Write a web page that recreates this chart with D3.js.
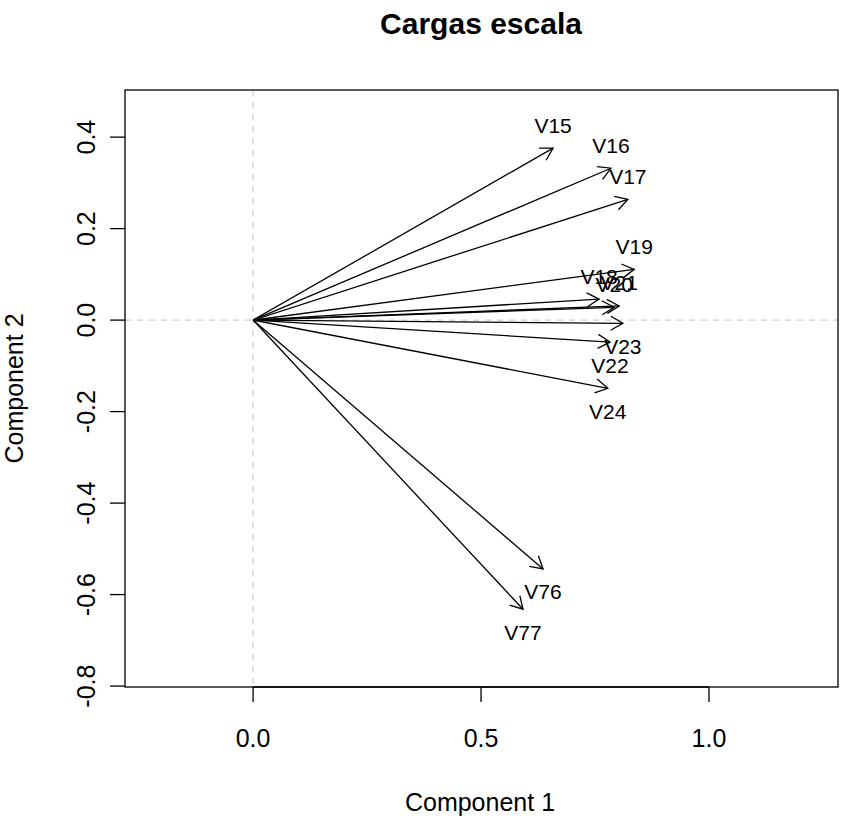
<!DOCTYPE html>
<html>
<head>
<meta charset="utf-8">
<script src="https://cdn.jsdelivr.net/npm/d3@7"></script>
<style>
  body { margin: 0; background: #fff; }
  text { font-family: "Liberation Sans", Arial, Helvetica, sans-serif; fill: #000; }
</style>
</head>
<body>
<svg id="chart" width="858" height="830"></svg>
<script>
// ---- data ----
const variables = ["V15","V16","V17","V18","V19","V20","V21","V22","V23","V24","V76","V77"];
const comp1 = [0.658, 0.785, 0.822, 0.759, 0.836, 0.792, 0.803, 0.783, 0.811, 0.778, 0.636, 0.592];
const comp2 = [0.376, 0.332, 0.264, 0.046, 0.111, 0.028, 0.031, -0.048, -0.007, -0.149, -0.544, -0.632];
const xTicks = [0.0, 0.5, 1.0];
const yTicks = [-0.8, -0.6, -0.4, -0.2, 0.0, 0.2, 0.4];
const xDomain = [-0.281, 1.283];
const yDomain = [-0.802, 0.503];
const title = "Cargas escala";
const xLabel = "Component 1";
const yLabel = "Component 2";

// ---- layout ----
const svg = d3.select("#chart");
const L = 125, R = 838, T = 90, B = 687;
const x = d3.scaleLinear().domain(xDomain).range([L, R]);
const y = d3.scaleLinear().domain(yDomain).range([B, T]);
const fmt = t => d3.format(".1f")(t).replace("\u2212", "-");

// reference lines
const refStyle = s => s.attr("stroke", "#cfcfcf").attr("stroke-width", 1.3).attr("stroke-dasharray", "6,6");
svg.append("line").attr("x1", x(0)).attr("x2", x(0)).attr("y1", T).attr("y2", B).call(refStyle);
svg.append("line").attr("x1", L).attr("x2", R).attr("y1", y(0)).attr("y2", y(0)).call(refStyle);

// arrows
const data = variables.map((v, i) => ({ name: v, c1: comp1[i], c2: comp2[i] }));
const g = svg.append("g").attr("stroke", "#000").attr("stroke-width", 1.3).attr("fill", "none");
const headLen = 14, headAng = Math.PI / 6;
data.forEach(d => {
  const x0 = x(0), y0 = y(0), x1 = x(d.c1), y1 = y(d.c2);
  g.append("line").attr("x1", x0).attr("y1", y0).attr("x2", x1).attr("y2", y1);
  const a = Math.atan2(y1 - y0, x1 - x0);
  const p = d3.path();
  p.moveTo(x1 - headLen * Math.cos(a - headAng), y1 - headLen * Math.sin(a - headAng));
  p.lineTo(x1, y1);
  p.lineTo(x1 - headLen * Math.cos(a + headAng), y1 - headLen * Math.sin(a + headAng));
  g.append("path").attr("d", p.toString());
});

// labels
svg.append("g").selectAll("text").data(data).join("text")
  .attr("x", d => x(d.c1))
  .attr("y", d => y(d.c2) + (d.c2 > 0 ? -15.5 : 30.5))
  .attr("text-anchor", "middle")
  .attr("font-size", 21)
  .text(d => d.name);

// box
svg.append("rect").attr("x", L).attr("y", T).attr("width", R - L).attr("height", B - T)
  .attr("fill", "none").attr("stroke", "#000").attr("stroke-width", 1.3);

// x axis
const xa = svg.append("g");
xa.append("line").attr("x1", x(xTicks[0])).attr("x2", x(xTicks[xTicks.length - 1]))
  .attr("y1", B).attr("y2", B).attr("stroke", "#000").attr("stroke-width", 1.3);
xTicks.forEach(t => {
  xa.append("line").attr("x1", x(t)).attr("x2", x(t)).attr("y1", B).attr("y2", B + 15)
    .attr("stroke", "#000").attr("stroke-width", 1.3);
  xa.append("text").attr("x", x(t)).attr("y", 747).attr("text-anchor", "middle")
    .attr("font-size", 25).text(fmt(t));
});

// y axis
const ya = svg.append("g");
yTicks.forEach(t => {
  ya.append("line").attr("x1", L - 15).attr("x2", L).attr("y1", y(t)).attr("y2", y(t))
    .attr("stroke", "#000").attr("stroke-width", 1.3);
  ya.append("text").attr("transform", `translate(95,${y(t)}) rotate(-90)`)
    .attr("text-anchor", "middle").attr("font-size", 25).text(fmt(t));
});

// titles
svg.append("text").attr("x", 481).attr("y", 34).attr("text-anchor", "middle")
  .attr("font-size", 30).attr("font-weight", "bold").text(title);
svg.append("text").attr("x", 480).attr("y", 811).attr("text-anchor", "middle")
  .attr("font-size", 25).text(xLabel);
svg.append("text").attr("transform", `translate(23,${(T + B) / 2}) rotate(-90)`)
  .attr("text-anchor", "middle").attr("font-size", 25).text(yLabel);
</script>
</body>
</html>
